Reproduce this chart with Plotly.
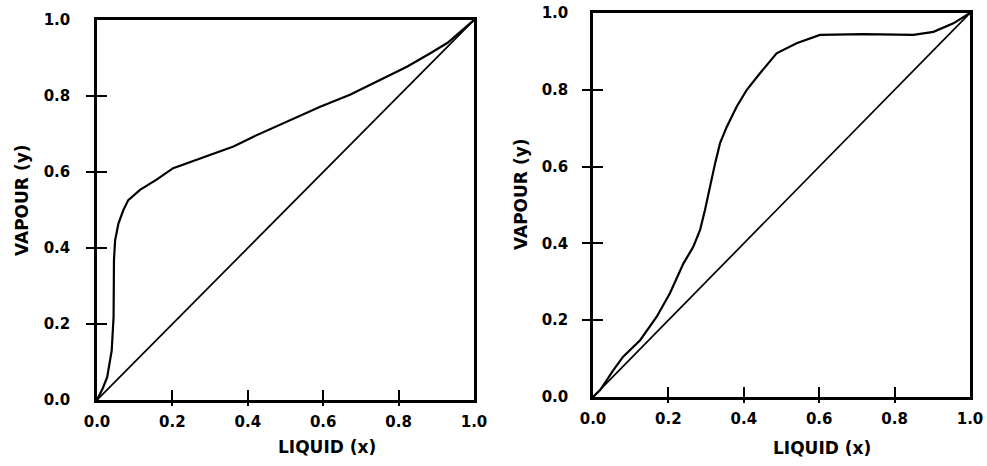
import plotly.graph_objects as go

# ---- data ----
left_x = [0, 0.015, 0.027, 0.039, 0.044, 0.045, 0.045, 0.048, 0.057, 0.07, 0.083, 0.114,
          0.158, 0.202, 0.273, 0.362, 0.415, 0.494, 0.592, 0.671, 0.759, 0.822, 0.883, 0.93, 1.0]
left_y = [0, 0.03, 0.06, 0.13, 0.219, 0.30, 0.368, 0.42, 0.465, 0.5, 0.526, 0.553,
          0.58, 0.61, 0.636, 0.667, 0.693, 0.728, 0.772, 0.803, 0.846, 0.877, 0.912, 0.94, 1.0]

right_x = [0, 0.019, 0.054, 0.08, 0.125, 0.169, 0.204, 0.24, 0.266, 0.284, 0.297, 0.31, 0.324,
           0.337, 0.355, 0.381, 0.408, 0.443, 0.487, 0.54, 0.602, 0.717, 0.85, 0.903, 0.956, 1.0]
right_y = [0, 0.018, 0.07, 0.105, 0.148, 0.209, 0.27, 0.348, 0.391, 0.435, 0.487, 0.548, 0.609,
           0.661, 0.704, 0.756, 0.8, 0.843, 0.895, 0.921, 0.943, 0.945, 0.943, 0.951, 0.973, 1.0]

diag = [0, 1]

tick_vals = [0, 0.2, 0.4, 0.6, 0.8, 1.0]
tick_text = ["0.0", "0.2", "0.4", "0.6", "0.8", "1.0"]
mark_vals = [0.2, 0.4, 0.6, 0.8]

x_title = "LIQUID (x)"
y_title = "VAPOUR (y)"

W, H = 987, 466
FONT = "DejaVu Sans"

fig = go.Figure()

# curves
fig.add_trace(go.Scatter(x=left_x, y=left_y, mode="lines", line=dict(color="black", width=2.2),
                         xaxis="x", yaxis="y", showlegend=False, hoverinfo="skip"))
fig.add_trace(go.Scatter(x=diag, y=diag, mode="lines", line=dict(color="black", width=1.7),
                         xaxis="x", yaxis="y", showlegend=False, hoverinfo="skip"))
fig.add_trace(go.Scatter(x=right_x, y=right_y, mode="lines", line=dict(color="black", width=2.2),
                         xaxis="x2", yaxis="y2", showlegend=False, hoverinfo="skip"))
fig.add_trace(go.Scatter(x=diag, y=diag, mode="lines", line=dict(color="black", width=1.7),
                         xaxis="x2", yaxis="y2", showlegend=False, hoverinfo="skip"))

# dummy traces for tick overlay axes
for xa, ya in [("x3", "y3"), ("x4", "y4"), ("x5", "y5"), ("x6", "y6")]:
    fig.add_trace(go.Scatter(x=[None], y=[None], mode="lines", xaxis=xa, yaxis=ya,
                             showlegend=False, hoverinfo="skip"))

tickfont = dict(family=FONT, size=15, color="black", weight="bold")


def main_axis(domain, anchor, standoff):
    return dict(domain=domain, anchor=anchor, range=[0, 1], showgrid=False, zeroline=False,
                showline=True, mirror=True, linecolor="black", linewidth=2.5,
                tickmode="array", tickvals=tick_vals, ticktext=tick_text, ticks="",
                tickfont=tickfont, ticklabelstandoff=standoff, fixedrange=True,
                automargin=False)


def mark_axis(over, anchor, direction, length):
    return dict(overlaying=over, anchor=anchor, range=[0, 1], showgrid=False, zeroline=False,
                showline=False, tickmode="array", tickvals=mark_vals, ticks=direction,
                ticklen=length, tickwidth=2, tickcolor="black", showticklabels=False,
                fixedrange=True, automargin=False)


L = (97 / W, 474 / W)
R = (593 / W, 970 / W)
LY = (1 - 400 / H, 1 - 20 / H)
RY = (1 - 397 / H, 1 - 13 / H)

fig.update_layout(
    width=W, height=H,
    margin=dict(l=0, r=0, t=0, b=0, autoexpand=False),
    paper_bgcolor="white", plot_bgcolor="white",
    showlegend=False,
    xaxis=main_axis(L, "y", 6),
    yaxis=main_axis(LY, "x", 21),
    xaxis2=main_axis(R, "y2", 6),
    yaxis2=main_axis(RY, "x2", 19),
    xaxis3=mark_axis("x", "y3", "outside", 5),
    yaxis3=mark_axis("y", "x3", "outside", 10),
    xaxis4=mark_axis("x", "y4", "inside", 10),
    yaxis4=mark_axis("y", "x4", "inside", 10),
    xaxis5=mark_axis("x2", "y5", "outside", 5),
    yaxis5=mark_axis("y2", "x5", "outside", 10),
    xaxis6=mark_axis("x2", "y6", "inside", 10),
    yaxis6=mark_axis("y2", "x6", "inside", 10),
)

title_font = dict(family=FONT, size=17, color="black", weight="bold")
annots = [
    dict(text=x_title, x=327 / W, y=1 - 447 / H, xref="paper", yref="paper",
         showarrow=False, font=title_font, xanchor="center", yanchor="middle"),
    dict(text=x_title, x=822 / W, y=1 - 448 / H, xref="paper", yref="paper",
         showarrow=False, font=title_font, xanchor="center", yanchor="middle"),
    dict(text=y_title, x=22 / W, y=1 - 200 / H, xref="paper", yref="paper", textangle=-90,
         showarrow=False, font=title_font, xanchor="center", yanchor="middle"),
    dict(text=y_title, x=521 / W, y=1 - 194 / H, xref="paper", yref="paper", textangle=-90,
         showarrow=False, font=title_font, xanchor="center", yanchor="middle"),
]
fig.update_layout(annotations=annots)

fig.write_html(
    "out.html",
    config={"displayModeBar": False},
    post_script="document.body.style.margin='0';document.body.style.overflow='hidden';",
)
